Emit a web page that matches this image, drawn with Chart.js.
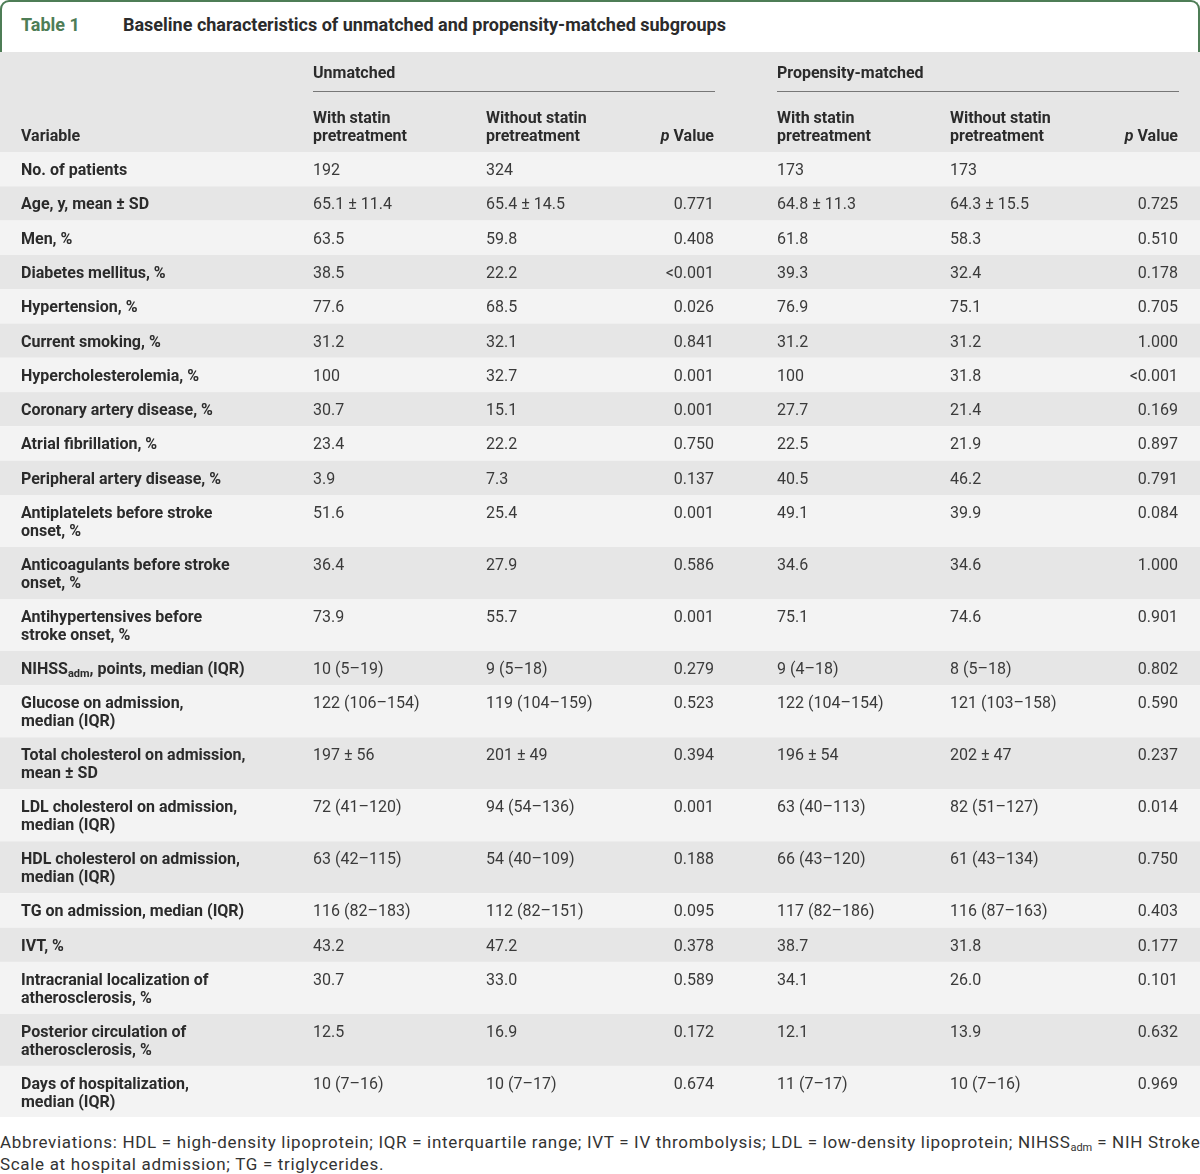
<!DOCTYPE html>
<html>
<head>
<meta charset="utf-8">
<script src="https://cdn.jsdelivr.net/npm/chart.js@4.4.1/dist/chart.umd.min.js"></script>
<style>
    body { margin: 0; background: #fff; font-family: Roboto, "Liberation Sans", sans-serif; }
    .page { position: relative; width: 1200px; height: 1174px; overflow: hidden; }
    .tab {
        position: absolute; left: 0; top: 0; width: 1200px; height: 52px;
        box-sizing: border-box; border: 2px solid #4e7d56; border-bottom: none;
        border-radius: 9px 9px 0 0;
    }
    .tab span { position: absolute; top: 12px; font-weight: bold; font-size: 18px; line-height: 22px; }
    .tab .num { left: 19px; color: #4e7d56; }
    .tab .title { left: 121px; color: #2b2b2b; }
    .wrap { position: absolute; left: 0; top: 52px; width: 1200px; height: 1065px; }
    .foot {
        position: absolute; left: 0; top: 1131px; width: 1200px;
        font-size: 17px; letter-spacing: 0.68px; line-height: 22px; color: #333; white-space: nowrap;
    }
    .foot sub { font-size: 11px; vertical-align: -3px; line-height: 0; letter-spacing: 0; }
</style>
</head>
<body>
<div class="page">
    <div class="tab"><span class="num">Table 1</span><span class="title">Baseline characteristics of unmatched and propensity-matched subgroups</span></div>
    <div class="wrap"><canvas id="baselineTable"></canvas></div>
    <div class="foot">Abbreviations: HDL = high-density lipoprotein; IQR = interquartile range; IVT = IV thrombolysis; LDL = low-density lipoprotein; NIHSS<sub>adm</sub> = NIH Stroke<br>Scale at hospital admission; TG = triglycerides.</div>
</div>
<script>
const variables = [
    "No. of patients",
    "Age, y, mean ± SD",
    "Men, %",
    "Diabetes mellitus, %",
    "Hypertension, %",
    "Current smoking, %",
    "Hypercholesterolemia, %",
    "Coronary artery disease, %",
    "Atrial fibrillation, %",
    "Peripheral artery disease, %",
    "Antiplatelets before stroke\nonset, %",
    "Anticoagulants before stroke\nonset, %",
    "Antihypertensives before\nstroke onset, %",
    "NIHSS_{adm}, points, median (IQR)",
    "Glucose on admission,\nmedian (IQR)",
    "Total cholesterol on admission,\nmean ± SD",
    "LDL cholesterol on admission,\nmedian (IQR)",
    "HDL cholesterol on admission,\nmedian (IQR)",
    "TG on admission, median (IQR)",
    "IVT, %",
    "Intracranial localization of\natherosclerosis, %",
    "Posterior circulation of\natherosclerosis, %",
    "Days of hospitalization,\nmedian (IQR)"
];

const unmatchedWith = ["192", "65.1 ± 11.4", "63.5", "38.5", "77.6", "31.2", "100", "30.7", "23.4", "3.9",
    "51.6", "36.4", "73.9", "10 (5–19)", "122 (106–154)", "197 ± 56", "72 (41–120)", "63 (42–115)",
    "116 (82–183)", "43.2", "30.7", "12.5", "10 (7–16)"];
const unmatchedWithout = ["324", "65.4 ± 14.5", "59.8", "22.2", "68.5", "32.1", "32.7", "15.1", "22.2", "7.3",
    "25.4", "27.9", "55.7", "9 (5–18)", "119 (104–159)", "201 ± 49", "94 (54–136)", "54 (40–109)",
    "112 (82–151)", "47.2", "33.0", "16.9", "10 (7–17)"];
const unmatchedP = ["", "0.771", "0.408", "<0.001", "0.026", "0.841", "0.001", "0.001", "0.750", "0.137",
    "0.001", "0.586", "0.001", "0.279", "0.523", "0.394", "0.001", "0.188",
    "0.095", "0.378", "0.589", "0.172", "0.674"];
const matchedWith = ["173", "64.8 ± 11.3", "61.8", "39.3", "76.9", "31.2", "100", "27.7", "22.5", "40.5",
    "49.1", "34.6", "75.1", "9 (4–18)", "122 (104–154)", "196 ± 54", "63 (40–113)", "66 (43–120)",
    "117 (82–186)", "38.7", "34.1", "12.1", "11 (7–17)"];
const matchedWithout = ["173", "64.3 ± 15.5", "58.3", "32.4", "75.1", "31.2", "31.8", "21.4", "21.9", "46.2",
    "39.9", "34.6", "74.6", "8 (5–18)", "121 (103–158)", "202 ± 47", "82 (51–127)", "61 (43–134)",
    "116 (87–163)", "31.8", "26.0", "13.9", "10 (7–16)"];
const matchedP = ["", "0.725", "0.510", "0.178", "0.705", "1.000", "<0.001", "0.169", "0.897", "0.791",
    "0.084", "1.000", "0.901", "0.802", "0.590", "0.237", "0.014", "0.750",
    "0.403", "0.177", "0.101", "0.632", "0.969"];

const groupLabels = ["Unmatched", "Propensity-matched"];
const columnLabels = ["Variable", "With statin\npretreatment", "Without statin\npretreatment", "*p* Value",
    "With statin\npretreatment", "Without statin\npretreatment", "*p* Value"];

const valueColumns = [unmatchedWith, unmatchedWithout, unmatchedP, matchedWith, matchedWithout, matchedP];

// layout in chart units (1 unit = 1px here)
const W = 1200, H = 1065;
const headerH = 100, rowH = 34.3, lineStep = 17.7, firstLine = 19;
const cols = [
    {x: 21, align: "left"}, {x: 313, align: "left"}, {x: 486, align: "left"}, {x: 714, align: "right"},
    {x: 777, align: "left"}, {x: 950, align: "left"}, {x: 1178, align: "right"}
];
const groups = [{from: 313, to: 715}, {from: 777, to: 1179}];
const FAMILY = "Roboto, 'Liberation Sans', sans-serif";

// split "*italic*" and "_{sub}" markup into runs
function runs(text) {
    const out = [];
    const re = /(\*[^*]+\*|_\{[^}]+\})/g;
    let last = 0, m;
    while ((m = re.exec(text))) {
        if (m.index > last) out.push({t: text.slice(last, m.index)});
        if (m[0][0] === "*") out.push({t: m[0].slice(1, -1), italic: true});
        else out.push({t: m[0].slice(2, -1), sub: true});
        last = m.index + m[0].length;
    }
    if (last < text.length) out.push({t: text.slice(last)});
    return out;
}

function drawRich(ctx, text, px, py, align, weight, size, color) {
    const parts = runs(text).map(r => {
        const s = r.sub ? Math.round(size * 0.68) : size;
        r.font = (r.italic ? "italic " : "") + weight + " " + s + "px " + FAMILY;
        ctx.font = r.font;
        r.w = ctx.measureText(r.t).width;
        return r;
    });
    const total = parts.reduce((a, r) => a + r.w, 0);
    let cx = align === "right" ? px - total : px;
    ctx.fillStyle = color;
    ctx.textAlign = "left";
    ctx.textBaseline = "middle";
    parts.forEach(r => {
        ctx.font = r.font;
        ctx.fillText(r.t, cx, r.sub ? py + 4 : py);
        cx += r.w;
    });
}

function rowBounds() {
    let top = headerH;
    return variables.map(v => {
        const lines = v.split("\n").length;
        const h = rowH + (lines - 1) * lineStep;
        const b = {top: top, bottom: top + h};
        top += h;
        return b;
    });
}

const tablePlugin = {
    id: "tableCells",
    beforeDatasetsDraw(chart) {
        const {ctx, scales: {x, y}} = chart;
        const x0 = x.getPixelForValue(0), x1 = x.getPixelForValue(W);
        ctx.save();
        ctx.fillStyle = "#e6e6e6";
        ctx.fillRect(x0, y.getPixelForValue(0), x1 - x0, y.getPixelForValue(headerH) - y.getPixelForValue(0));
        rowBounds().forEach((b, i) => {
            ctx.fillStyle = i % 2 === 0 ? "#f3f3f3" : "#e6e6e6";
            const t = y.getPixelForValue(b.top), btm = y.getPixelForValue(b.bottom);
            ctx.fillRect(x0, t, x1 - x0, btm - t);
        });
        ctx.restore();
    },
    afterDatasetsDraw(chart) {
        const {ctx, scales: {x, y}} = chart;
        ctx.save();
        // header
        groups.forEach((g, i) => {
            drawRich(ctx, groupLabels[i], x.getPixelForValue(g.from), y.getPixelForValue(22), "left", "bold", 16, "#2b2b2b");
            ctx.strokeStyle = "#777";
            ctx.lineWidth = 1;
            ctx.beginPath();
            ctx.moveTo(x.getPixelForValue(g.from), Math.round(y.getPixelForValue(39)) + 0.5);
            ctx.lineTo(x.getPixelForValue(g.to), Math.round(y.getPixelForValue(39)) + 0.5);
            ctx.stroke();
        });
        columnLabels.forEach((lab, c) => {
            const lines = lab.split("\n");
            const start = 85 - (lines.length - 1) * lineStep;
            lines.forEach((ln, k) => {
                drawRich(ctx, ln, x.getPixelForValue(cols[c].x), y.getPixelForValue(start + k * lineStep),
                    cols[c].align, "bold", 16, "#2b2b2b");
            });
        });
        // body
        rowBounds().forEach((b, i) => {
            variables[i].split("\n").forEach((ln, k) => {
                drawRich(ctx, ln, x.getPixelForValue(cols[0].x), y.getPixelForValue(b.top + firstLine + k * lineStep),
                    "left", "bold", 16, "#2b2b2b");
            });
            valueColumns.forEach((arr, c) => {
                if (!arr[i]) return;
                drawRich(ctx, arr[i], x.getPixelForValue(cols[c + 1].x), y.getPixelForValue(b.top + firstLine),
                    cols[c + 1].align, "normal", 16, "#3a3a3a");
            });
        });
        ctx.restore();
    }
};

const ctx = document.getElementById("baselineTable");

new Chart(ctx, {
    type: "scatter",
    data: { datasets: [] },
    options: {
        responsive: true,
        maintainAspectRatio: false,
        animation: false,
        layout: { padding: 0 },
        plugins: { legend: { display: false }, tooltip: { enabled: false } },
        scales: {
            x: { type: "linear", min: 0, max: W, display: false },
            y: { type: "linear", min: 0, max: H, reverse: true, display: false }
        }
    },
    plugins: [tablePlugin]
});
</script>
</body>
</html>
